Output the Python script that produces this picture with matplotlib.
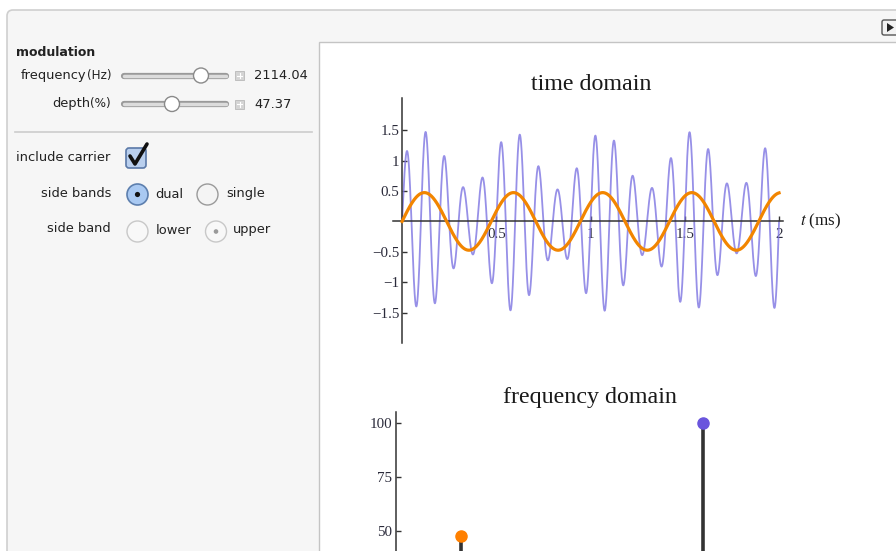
import numpy as np
import matplotlib
matplotlib.use("Agg")
import matplotlib.pyplot as plt
from matplotlib.patches import Rectangle, FancyBboxPatch, Circle, Polygon

# ---- data ----
carrier_freq_hz = 10000.0
mod_freq_hz = 2114.04
depth_pct = 47.37
t_max_ms = 2.0

time_ticks = [0.5, 1, 1.5, 2]
time_tick_labels = ["0.5", "1", "1.5", "2"]
amp_ticks = [-1.5, -1, -0.5, 0.5, 1, 1.5]
amp_tick_labels = ["\u22121.5", "\u22121", "\u22120.5", "0.5", "1", "1.5"]

spec_freqs_hz = [mod_freq_hz, carrier_freq_hz]
spec_amps = [depth_pct, 100.0]
spec_colors = ["#ff8000", "#6a55dd"]
spec_ticks = [50, 75, 100]

W, H = 896, 551
fig = plt.figure(figsize=(W / 100, H / 100), dpi=100)
fig.patch.set_facecolor("white")


def px_box(x0, y0, x1, y1):
    return [x0 / W, 1 - y1 / H, (x1 - x0) / W, (y1 - y0) / H]


def pt(px):
    return px * 0.72


# ---- UI frame ----
ui = fig.add_axes([0, 0, 1, 1])
ui.set_xlim(0, W)
ui.set_ylim(H, 0)
ui.set_axis_off()

panel = "#f6f6f6"
edge = "#cfcfcf"
ui.add_patch(FancyBboxPatch((7, 10), W + 40, H + 40, boxstyle="round,pad=0,rounding_size=6",
                            fc=panel, ec=edge, lw=1.2))
ui.add_patch(Rectangle((319, 42), W, H, fc="white", ec="#c4c4c4", lw=1.0))
# top-right button
ui.add_patch(FancyBboxPatch((882, 20), 20, 15, boxstyle="round,pad=0,rounding_size=2",
                            fc="#f2f2f2", ec="#555555", lw=1.0))
ui.add_patch(Polygon([[887, 23], [887, 32], [894, 27.5]], closed=True, fc="#222222", ec="none"))

ui_font = "DejaVu Sans"
fs = pt(13)
txt = "#222222"

ui.text(16, 52, "modulation", fontsize=pt(12.5), fontweight="bold", family=ui_font,
        color=txt, va="center", ha="left")

renderer = fig.canvas.get_renderer()


def label_with_unit(y, name, unit):
    u = ui.text(111, y, unit, fontsize=pt(12), family=ui_font, color=txt,
                va="center", ha="right")
    bb = u.get_window_extent(renderer)
    ui.text(bb.x0, y, name, fontsize=fs, family=ui_font, color=txt,
            va="center", ha="right")


label_with_unit(75, "frequency", "(Hz)")
label_with_unit(103, "depth", "(%)")


def slider(y, knob_x, value):
    ui.plot([124, 226], [y, y], color="#9a9a9a", lw=4.5, solid_capstyle="round", zorder=3)
    ui.plot([124, 226], [y, y], color="#dcdcdc", lw=2.5, solid_capstyle="round", zorder=3)
    ui.add_patch(Circle((knob_x, y), 7.5, fc="white", ec="#8a8a8a", lw=1.0, zorder=4))
    ui.add_patch(Rectangle((235, y - 4.5), 9, 9, fc="#d4d4d4", ec="#b8b8b8", lw=0.6, zorder=3))
    ui.plot([237, 242], [y, y], color="white", lw=0.8, zorder=4)
    ui.plot([239.5, 239.5], [y - 2.5, y + 2.5], color="white", lw=0.8, zorder=4)
    ui.text(254, y, value, fontsize=fs, family=ui_font, color=txt, va="center", ha="left")


slider(75.5, 201, f"{mod_freq_hz:.2f}")
slider(104, 172, f"{depth_pct:.2f}")

ui.plot([15, 312], [131.5, 131.5], color="#cccccc", lw=1.2)

ui.text(16, 157.5, "include carrier", fontsize=fs, family=ui_font, color=txt, va="center", ha="left")
ui.add_patch(FancyBboxPatch((126, 148), 20, 20, boxstyle="round,pad=0,rounding_size=3",
                            fc="#b9cfee", ec="#5b79a8", lw=1.2))
ui.plot([130, 135, 147], [156, 164, 144], color="#111111", lw=2.6, solid_capstyle="round",
        solid_joinstyle="round")

ui.text(111, 193.5, "side bands", fontsize=fs, family=ui_font, color=txt, va="center", ha="right")
ui.add_patch(Circle((137.5, 194.5), 10.5, fc="#a9c9f2", ec="#5d7fae", lw=1.2))
ui.add_patch(Circle((137.5, 194.5), 2.6, fc="#111111", ec="none"))
ui.text(155, 194, "dual", fontsize=fs, family=ui_font, color=txt, va="center", ha="left")
ui.add_patch(Circle((207.5, 194.5), 10.5, fc="#f4f4f4", ec="#9a9a9a", lw=1.0))
ui.text(226, 194, "single", fontsize=fs, family=ui_font, color=txt, va="center", ha="left")

ui.text(111, 229, "side band", fontsize=fs, family=ui_font, color=txt, va="center", ha="right")
ui.add_patch(Circle((137.5, 231.5), 10.5, fc="#f8f8f8", ec="#c8c8c8", lw=1.0))
ui.text(156, 230, "lower", fontsize=fs, family=ui_font, color=txt, va="center", ha="left")
ui.add_patch(Circle((216, 231.5), 10.5, fc="#f8f8f8", ec="#c8c8c8", lw=1.0))
ui.add_patch(Circle((216, 231.5), 2.3, fc="#9a9a9a", ec="none"))
ui.text(233, 230, "upper", fontsize=fs, family=ui_font, color=txt, va="center", ha="left")

# ---- time domain ----
serif = ["Liberation Serif", "DejaVu Serif"]
axis_col = "#333333"

t_ms = np.linspace(0, t_max_ms, 5000)
m = depth_pct / 100.0
modulating = m * np.sin(2 * np.pi * mod_freq_hz * t_ms / 1000)
signal = (1 + modulating) * np.sin(2 * np.pi * carrier_freq_hz * t_ms / 1000)

ax1 = fig.add_axes(px_box(393, 98, 783, 343))
ax1.patch.set_alpha(0)
ax1.plot(t_ms, signal, color="#7d74e2", lw=1.3, alpha=0.8, zorder=2)
ax1.plot(t_ms, modulating, color="#f28500", lw=2.3, zorder=3)
ax1.set_xlim(-0.048, 2.021)
ax1.set_ylim(-2.0, 2.03)
for s in ["top", "right"]:
    ax1.spines[s].set_visible(False)
ax1.spines["left"].set_position(("data", 0))
ax1.spines["bottom"].set_position(("data", 0))
for s in ["left", "bottom"]:
    ax1.spines[s].set_color(axis_col)
    ax1.spines[s].set_linewidth(1.1)
ax1.set_xticks(time_ticks)
ax1.set_xticklabels(time_tick_labels)
ax1.set_yticks(amp_ticks)
ax1.set_yticklabels(amp_tick_labels)
ax1.tick_params(direction="in", length=3.5, width=1.0, color=axis_col, labelsize=pt(15),
                pad=2)
ax1.tick_params(axis="x", pad=5)
for lab in ax1.get_xticklabels() + ax1.get_yticklabels():
    lab.set_family(serif)
    lab.set_color("#2a2a3a")
fig.text(591 / W, 1 - 85 / H, "time domain", ha="center", va="center",
         family=serif, fontsize=pt(24), color="#1a1a1a")
fig.text(800 / W, 1 - 221 / H, "$t$ (ms)", family=serif, fontsize=pt(17), color="#1a1a1a",
         va="center", ha="left", math_fontfamily="stix")

# ---- frequency domain ----
px_per_hz = (703.3 - 461.0) / (carrier_freq_hz - mod_freq_hz)
x_right_hz = (790 - 396) / px_per_hz
ax2 = fig.add_axes(px_box(396, 411.7, 790, 638.7))
ax2.patch.set_alpha(0)
for f, a, c in zip(spec_freqs_hz, spec_amps, spec_colors):
    ax2.plot([f, f], [0, a], color="#333333", lw=2.6, zorder=2, clip_on=False)
    ax2.plot([f], [a], "o", color=c, ms=8, zorder=3, clip_on=False)
ax2.set_xlim(0, x_right_hz)
ax2.set_ylim(0, 105.1)
for s in ["top", "right"]:
    ax2.spines[s].set_visible(False)
for s in ["left", "bottom"]:
    ax2.spines[s].set_color(axis_col)
    ax2.spines[s].set_linewidth(1.1)
ax2.set_yticks(spec_ticks)
ax2.set_xticks([])
ax2.tick_params(direction="in", length=3.5, width=1.0, color=axis_col, labelsize=pt(15), pad=3)
for lab in ax2.get_yticklabels():
    lab.set_family(serif)
    lab.set_color("#2a2a3a")
fig.text(590 / W, 1 - 397 / H, "frequency domain", ha="center", va="center",
         family=serif, fontsize=pt(24), color="#1a1a1a")

fig.savefig("out.png", dpi=100, facecolor=fig.get_facecolor())
